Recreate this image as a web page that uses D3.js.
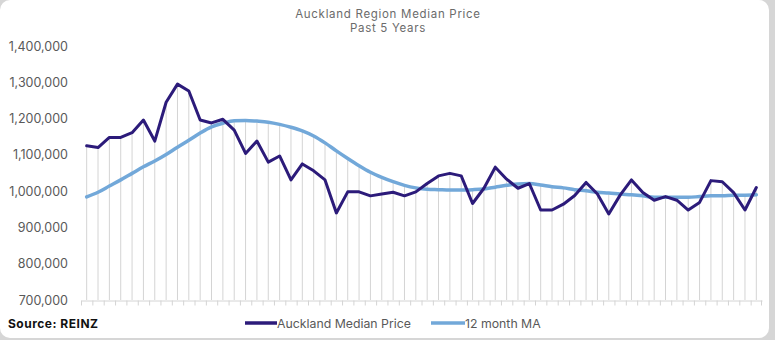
<!DOCTYPE html>
<html>
<head>
<meta charset="utf-8">
<script src="https://cdn.jsdelivr.net/npm/d3@7"></script>
<style>
  html, body { margin: 0; padding: 0; background: #d6d6d6; }
  svg { display: block; }
</style>
</head>
<body>
<svg id="chart" width="775" height="340"></svg>
<script>
// ---- data ----
const titleLines = ["Auckland Region Median Price", "Past 5 Years"];
const categories = d3.range(1, 61); // 60 monthly periods (labels not shown)
const medianPrice = [
  1125000, 1120000, 1148000, 1148000, 1161000, 1196000, 1138000, 1245000, 1295000, 1276000,
  1196000, 1188000, 1198000, 1168000, 1104000, 1138000, 1080000, 1097000, 1031000, 1075000,
  1056000, 1031000, 940000, 998000, 998000, 987000, 992000, 997000, 987000, 998000,
  1021000, 1042000, 1049000, 1042000, 966000, 1008000, 1066000, 1033000, 1008000, 1021000,
  948000, 948000, 964000, 988000, 1024000, 992000, 937000, 989000, 1031000, 996000,
  975000, 985000, 975000, 948000, 969000, 1029000, 1026000, 996000, 948000, 1010000
];
const movingAvg = [
  984000, 997000, 1014000, 1031000, 1049000, 1067000, 1083000, 1101000, 1121000, 1140000,
  1160000, 1177000, 1187000, 1194000, 1195000, 1193000, 1190000, 1184000, 1176000, 1166000,
  1152000, 1133000, 1111000, 1090000, 1070000, 1052000, 1038000, 1026000, 1016000, 1009000,
  1005000, 1004000, 1003000, 1003000, 1004000, 1006000, 1011000, 1016000, 1020000, 1021000,
  1017000, 1012000, 1009000, 1004000, 1001000, 997000, 995000, 992000, 990000, 987000,
  983000, 983000, 983000, 983000, 985000, 987000, 987000, 989000, 989000, 990000
];
const yTicks = [700000, 800000, 900000, 1000000, 1100000, 1200000, 1300000, 1400000];
const seriesNames = ["Auckland Median Price", "12 month MA"];
const sourceText = "Source: REINZ";

// ---- styles ----
const darkColor = "#2c1b7a";
const lightColor = "#72a8d9";
const gridColor = "#d4d4d4";
const textColor = "#595959";
const font = "Inter, 'Open Sans', sans-serif";

const svg = d3.select("#chart");

// card
svg.append("rect").attr("x", 0).attr("y", 0).attr("width", 769).attr("height", 338)
  .attr("rx", 10).attr("ry", 10).attr("fill", "#ffffff");

const x = d3.scaleBand().domain(categories).range([81, 762]).paddingInner(0).paddingOuter(0);
const y = d3.scaleLinear().domain([700000, 1400000]).range([300, 46]);
const cx = c => x(c) + x.bandwidth() / 2;

// title
const title = svg.append("text").attr("x", 388).attr("y", 18)
  .attr("text-anchor", "middle").attr("font-family", font).attr("font-size", 11.5)
  .attr("letter-spacing", 0.7).attr("fill", "#6b6b6b");
titleLines.forEach((t, i) => {
  title.append("tspan").attr("x", 388).attr("dy", i === 0 ? 0 : 13.5).text(t);
});

// y axis labels (no line)
const yAxis = d3.axisLeft(y).tickValues(yTicks).tickSize(0).tickPadding(0)
  .tickFormat(d3.format(","));
const yg = svg.append("g").attr("transform", "translate(68,0)").call(yAxis);
yg.select(".domain").remove();
yg.selectAll("text").attr("font-family", font).attr("font-size", 12.5).attr("fill", textColor);

// drop lines
svg.append("g").selectAll("line").data(categories).join("line")
  .attr("x1", d => cx(d)).attr("x2", d => cx(d))
  .attr("y1", (d, i) => y(Math.max(medianPrice[i], movingAvg[i])))
  .attr("y2", y(700000))
  .attr("stroke", gridColor).attr("stroke-width", 1);

// x axis with ticks at category boundaries
const xAxis = d3.axisBottom(x).tickSize(0).tickFormat("");
const xg = svg.append("g").attr("transform", `translate(0,${y(700000) + 0.5})`).call(xAxis);
xg.select(".domain").attr("stroke", gridColor);
xg.selectAll(".tick").remove();
xg.selectAll(".bnd").data(categories.concat(["end"])).join("line")
  .attr("class", "bnd")
  .attr("x1", (d, i) => i < categories.length ? x(d) + 0.5 : x.range()[1] - 0.5)
  .attr("x2", (d, i) => i < categories.length ? x(d) + 0.5 : x.range()[1] - 0.5)
  .attr("y1", 0).attr("y2", 5)
  .attr("stroke", gridColor);

// lines
const line = d3.line().x((d, i) => cx(categories[i])).y(d => y(d)).curve(d3.curveLinear);
svg.append("path").datum(movingAvg).attr("d", d3.line().x((d, i) => cx(categories[i])).y(d => y(d)).curve(d3.curveMonotoneX))
  .attr("fill", "none").attr("stroke", lightColor).attr("stroke-width", 3.5)
  .attr("stroke-linejoin", "round").attr("stroke-linecap", "round");
svg.append("path").datum(medianPrice).attr("d", line)
  .attr("fill", "none").attr("stroke", darkColor).attr("stroke-width", 3)
  .attr("stroke-linejoin", "round").attr("stroke-linecap", "round");

// source
svg.append("text").attr("x", 8).attr("y", 328).attr("font-family", font)
  .attr("font-size", 12).attr("font-weight", "bold").attr("letter-spacing", 0.5)
  .attr("fill", "#111").text(sourceText);

// legend
const legendItems = [
  { name: seriesNames[0], color: darkColor, x: 245, w: 32 },
  { name: seriesNames[1], color: lightColor, x: 431, w: 34 }
];
const lg = svg.append("g");
legendItems.forEach(it => {
  lg.append("line").attr("x1", it.x).attr("x2", it.x + it.w).attr("y1", 323).attr("y2", 323)
    .attr("stroke", it.color).attr("stroke-width", 3.5);
  lg.append("text").attr("x", it.x + it.w).attr("y", 327.5).attr("font-family", font)
    .attr("font-size", 12.3).attr("fill", textColor).text(it.name);
});
</script>
</body>
</html>
